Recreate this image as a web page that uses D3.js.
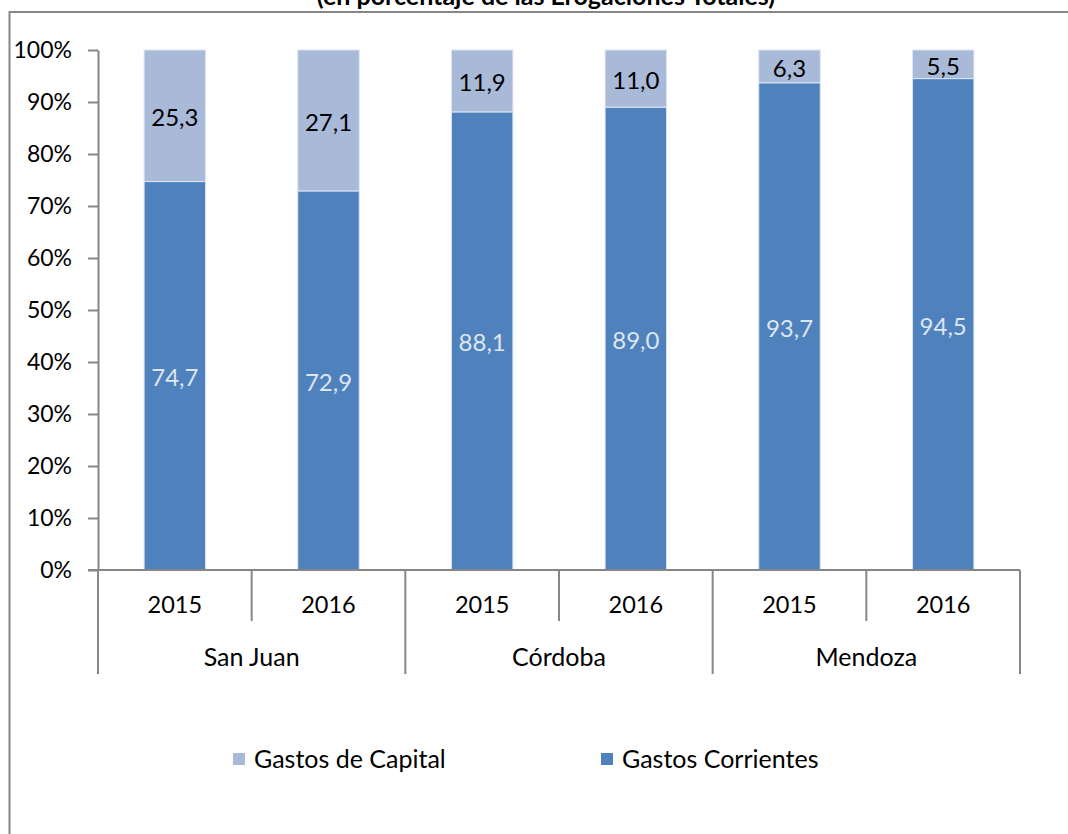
<!DOCTYPE html>
<html>
<head>
<meta charset="utf-8">
<script src="https://cdn.jsdelivr.net/npm/d3@7"></script>
<style>
  body { margin: 0; background: #fff; }
  svg { display: block; font-family: Lato, "Open Sans", sans-serif; }
</style>
</head>
<body>
<svg id="drawing_region"></svg>
<script>
// datos
var regions = ["San Juan", "Córdoba", "Mendoza"];
var years = ["2015", "2016"];
var gastosCapital = [25.3, 27.1, 11.9, 11.0, 6.3, 5.5];
var gastosCorrientes = [74.7, 72.9, 88.1, 89.0, 93.7, 94.5];
var yTicks = [0, 0.1, 0.2, 0.3, 0.4, 0.5, 0.6, 0.7, 0.8, 0.9, 1];
var seriesNames = ["Gastos Corrientes", "Gastos de Capital"];
var legendNames = ["Gastos de Capital", "Gastos Corrientes"];

var width = 1068, height = 834;
var margin = { top: 50, right: 48, bottom: 264, left: 98 };
var axisColor = "#868686";

var color = d3.scaleOrdinal()
    .domain(seriesNames)
    .range(["#4f81bd", "#a9b9d8"]);

var svg = d3.select('#drawing_region')
    .attr('width', width)
    .attr('height', height);

// marco
svg.append('rect')
    .attr('x', 9.5).attr('y', 12)
    .attr('width', 1100).attr('height', 900)
    .attr('fill', 'none')
    .attr('stroke', axisColor)
    .attr('stroke-width', 2);

// titulo (cortado arriba)
svg.append('text')
    .attr('x', 546)
    .attr('y', 5)
    .attr('text-anchor', 'middle')
    .style('font-size', '25px')
    .style('font-weight', 'bold')
    .text('(en porcentaje de las Erogaciones Totales)');

// tabla
var data = [];
regions.forEach((r, i) => {
    years.forEach((y, j) => {
        var k = i * years.length + j;
        data.push({
            key: r + "|" + y, region: r, year: y,
            "Gastos Corrientes": gastosCorrientes[k],
            "Gastos de Capital": gastosCapital[k]
        });
    });
});

var x = d3.scaleBand()
    .domain(data.map(d => d.key))
    .range([margin.left, width - margin.right])
    .paddingInner(0.6)
    .paddingOuter(0.3);

var xGroup = d3.scaleBand()
    .domain(regions)
    .range([margin.left, width - margin.right]);

var y = d3.scaleLinear()
    .domain([0, 100])
    .range([height - margin.bottom, margin.top]);

var y0 = y(0);

// eje y
var yAxis = svg.append('g')
    .attr('transform', `translate(${margin.left},0)`)
    .call(d3.axisLeft(d3.scaleLinear().domain([0, 1]).range(y.range()))
        .tickValues(yTicks)
        .tickFormat(d3.format('.0%'))
        .tickSize(10)
        .tickSizeOuter(0)
        .tickPadding(16));
yAxis.select('.domain').attr('stroke', axisColor).attr('stroke-width', 2);
yAxis.selectAll('.tick line').attr('stroke', axisColor).attr('stroke-width', 2);
yAxis.selectAll('.tick text')
    .style('font-size', '23px')
    .style('font-family', 'Lato, "Open Sans", sans-serif')
    .attr('fill', '#000');

// barras apiladas
var stack = d3.stack().keys(seriesNames);
var layers = stack(data);

var layer = svg.selectAll('g.layer')
    .data(layers)
    .enter()
    .append('g')
    .attr('class', 'layer')
    .attr('fill', d => color(d.key));

layer.selectAll('rect')
    .data(d => d)
    .enter()
    .append('rect')
    .attr('x', d => x(d.data.key))
    .attr('width', x.bandwidth())
    .attr('y', d => y(d[1]))
    .attr('height', d => y(d[0]) - y(d[1]))
    .attr('stroke', '#dce6f2')
    .attr('stroke-width', 1);

// etiquetas
layer.selectAll('text')
    .data(d => d.map(p => ({ p: p, key: d.key })))
    .enter()
    .append('text')
    .attr('x', d => x(d.p.data.key) + x.bandwidth() / 2)
    .attr('y', d => (y(d.p[0]) + y(d.p[1])) / 2 + 1)
    .attr('text-anchor', 'middle')
    .attr('dominant-baseline', 'central')
    .style('font-size', '24px')
    .attr('fill', d => d.key === "Gastos Corrientes" ? '#dce6f2' : '#000')
    .text(d => d3.format('.1f')(d.p[1] - d.p[0]).replace('.', ','));

// eje x
var xLeft = margin.left - 10, xRight = width - margin.right;
svg.append('line')
    .attr('x1', xLeft).attr('x2', xRight)
    .attr('y1', y0).attr('y2', y0)
    .attr('stroke', axisColor).attr('stroke-width', 2);

var step = x.step();
var seps = d3.range(data.length + 1).map(i => margin.left + i * step);
svg.selectAll('line.sep')
    .data(seps)
    .enter()
    .append('line')
    .attr('class', 'sep')
    .attr('x1', d => d).attr('x2', d => d)
    .attr('y1', y0)
    .attr('y2', (d, i) => i % years.length === 0 ? y0 + 104 : y0 + 51)
    .attr('stroke', axisColor)
    .attr('stroke-width', 2);

svg.selectAll('text.year')
    .data(data)
    .enter()
    .append('text')
    .attr('class', 'year')
    .attr('x', d => x(d.key) + x.bandwidth() / 2)
    .attr('y', y0 + 43)
    .attr('text-anchor', 'middle')
    .style('font-size', '23.5px')
    .text(d => d.year);

svg.selectAll('text.region')
    .data(regions)
    .enter()
    .append('text')
    .attr('class', 'region')
    .attr('x', d => xGroup(d) + xGroup.bandwidth() / 2)
    .attr('y', y0 + 96)
    .attr('text-anchor', 'middle')
    .style('font-size', '25px')
    .text(d => d);

// leyenda
var legendX = [233, 601];
var legend = svg.selectAll('g.legend')
    .data(legendNames)
    .enter()
    .append('g')
    .attr('class', 'legend')
    .attr('transform', (d, i) => `translate(${legendX[i]},753)`);

legend.append('rect')
    .attr('width', 12).attr('height', 12)
    .attr('fill', d => color(d));

legend.append('text')
    .attr('x', 21)
    .attr('y', 15)
    .style('font-size', '25px')
    .text(d => d);
</script>
</body>
</html>
